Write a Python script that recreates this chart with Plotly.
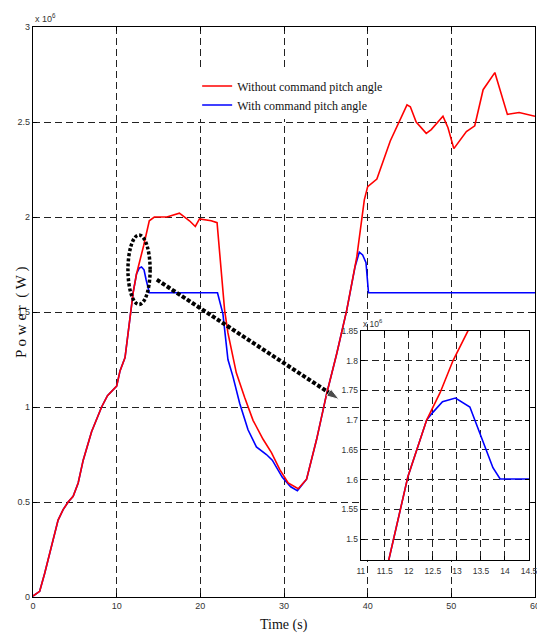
import plotly.graph_objects as go

# ---- data (power in units of 1e6 W) ----
t_without = [0, 0.8, 1.4, 2.0, 2.6, 3.0, 3.6, 4.2, 4.8, 5.4, 6.0, 7.0, 8.2, 8.9, 10.0, 10.4,
             11.0, 11.58, 11.98, 12.37, 12.65, 12.92, 13.23, 13.9, 14.5, 16.0, 17.5, 18.7,
             19.4, 19.9, 21.3, 22.0, 22.9, 23.3, 24.3, 25.3, 26.3, 27.5, 28.5, 29.5, 30.5,
             31.7, 32.7, 33.9, 35.1, 36.3, 37.5, 38.7, 39.6, 40.0, 41.1, 42.7, 44.7, 45.1,
             45.8, 47.0, 47.6, 49.0, 49.6, 50.3, 51.8, 52.8, 53.8, 55.2, 56.7, 58.1, 60.0]
p_without = [0.005, 0.03, 0.125, 0.23, 0.34, 0.405, 0.46, 0.50, 0.53, 0.60, 0.72, 0.87, 1.0, 1.06,
             1.11, 1.19, 1.26, 1.465, 1.605, 1.70, 1.746, 1.80, 1.85, 1.98, 2.0, 2.0, 2.02, 1.98,
             1.95, 1.99, 1.98, 1.97, 1.51, 1.39, 1.18, 1.05, 0.93, 0.83, 0.76, 0.67, 0.60,
             0.57, 0.62, 0.83, 1.07, 1.28, 1.51, 1.79, 2.09, 2.16, 2.20, 2.40, 2.59, 2.58,
             2.50, 2.44, 2.46, 2.53, 2.47, 2.36, 2.45, 2.48, 2.67, 2.76, 2.54, 2.55, 2.53]

t_with = [0, 0.8, 1.4, 2.0, 2.6, 3.0, 3.6, 4.2, 4.8, 5.4, 6.0, 7.0, 8.2, 8.9, 10.0, 10.4,
          11.0, 11.58, 11.98, 12.37, 12.5, 12.7, 12.97, 13.27, 13.52, 13.75, 13.9, 14.5, 22.05,
          22.7, 23.3, 23.9, 24.7, 25.7, 26.7, 27.9, 28.6, 29.8, 30.8, 31.6, 32.7, 33.9, 35.1,
          36.3, 37.5, 38.5, 39.0, 39.4, 39.8, 40.1, 60.0]
p_with = [0.005, 0.03, 0.125, 0.23, 0.34, 0.405, 0.46, 0.50, 0.53, 0.60, 0.72, 0.87, 1.0, 1.06,
          1.11, 1.19, 1.26, 1.465, 1.605, 1.70, 1.713, 1.731, 1.737, 1.722, 1.67, 1.62, 1.601,
          1.601, 1.601, 1.49, 1.25, 1.16, 1.02, 0.88, 0.79, 0.75, 0.72, 0.63, 0.58, 0.56, 0.62,
          0.83, 1.07, 1.28, 1.51, 1.74, 1.815, 1.80, 1.76, 1.601, 1.601]

labels = ["Without command pitch angle", "With command pitch angle"]
colors = ["#ff0000", "#0000ff"]

main_xticks = [0, 10, 20, 30, 40, 50, 60]
main_yticks = [0, 0.5, 1, 1.5, 2, 2.5, 3]
inset_xticks = [11, 11.5, 12, 12.5, 13, 13.5, 14, 14.5]
inset_yticks = [1.5, 1.55, 1.6, 1.65, 1.7, 1.75, 1.8, 1.85]

# arrow (annotation geometry)
arrow_t = [14.8, 36.6]
arrow_p = [1.67, 1.04]

SERIF = "Liberation Serif, Times New Roman, serif"
TICKF = "Liberation Sans Narrow, Arial Narrow, Liberation Sans, Arial, sans-serif"

fig = go.Figure()
# blue first so that red lies on top where they coincide
fig.add_trace(go.Scatter(x=t_with, y=p_with, mode="lines", name=labels[1], legendrank=2,
                         line=dict(color=colors[1], width=1.6)))
fig.add_trace(go.Scatter(x=t_without, y=p_without, mode="lines", name=labels[0], legendrank=1,
                         line=dict(color=colors[0], width=1.6)))
# dotted arrow
fig.add_trace(go.Scatter(x=arrow_t, y=arrow_p, mode="lines+markers", showlegend=False,
                         line=dict(color="black", width=4, dash="4px,2px"),
                         marker=dict(symbol=["circle", "arrow"], size=[0, 13], color="black",
                                     angleref="previous"),
                         hoverinfo="skip"))
# inset traces
fig.add_trace(go.Scatter(x=t_with, y=p_with, mode="lines", showlegend=False,
                         line=dict(color=colors[1], width=1.6), xaxis="x2", yaxis="y2"))
fig.add_trace(go.Scatter(x=t_without, y=p_without, mode="lines", showlegend=False,
                         line=dict(color=colors[0], width=1.6), xaxis="x2", yaxis="y2"))

grid = dict(showgrid=True, gridcolor="#222222", gridwidth=1.2, griddash="7px,4px",
            showline=True, linecolor="black", linewidth=1.3, mirror="ticks",
            ticks="inside", ticklen=4, tickcolor="black", zeroline=False, automargin=False,
            ticklabeloverflow="allow")

fig.update_layout(
    width=537, height=640,
    margin=dict(l=33, r=2, t=27, b=43, autoexpand=False),
    paper_bgcolor="white", plot_bgcolor="white",
    xaxis=dict(range=[0, 60], tickvals=main_xticks, domain=[0, 1],
               tickfont=dict(family=TICKF, size=9, color="#333"), **grid),
    yaxis=dict(range=[0, 3], tickvals=main_yticks, domain=[0, 1],
               tickfont=dict(family=TICKF, size=9, color="#333"), **grid),
    xaxis2=dict(range=[11, 14.5], tickvals=inset_xticks, domain=[0.653, 0.988],
                anchor="y2", ticklabelstandoff=3,
                tickfont=dict(family=TICKF, size=8.5, color="#333"), **grid),
    yaxis2=dict(range=[1.465, 1.85], tickvals=inset_yticks, domain=[0.065, 0.467],
                anchor="x2",
                tickfont=dict(family=TICKF, size=8.5, color="#333"), **grid),
    legend=dict(x=0.327, y=0.922, xanchor="left", yanchor="top", bgcolor="white",
                borderwidth=0, font=dict(family=SERIF, size=12, color="#111"),
                tracegroupgap=3, traceorder="normal"),
    showlegend=True,
)

fig.add_shape(type="circle", xref="x", yref="y", x0=11.35, x1=14.0, y0=1.54, y1=1.905,
              line=dict(color="black", width=3.5, dash="3px,2px"))

fig.add_annotation(xref="paper", yref="paper", x=0.0, y=1.0, xanchor="left", yanchor="bottom",
                   text="x 10<sup>6</sup>", showarrow=False, yshift=1,
                   font=dict(family=TICKF, size=9, color="#333"))
fig.add_annotation(xref="paper", yref="paper", x=0.653, y=0.467, xanchor="left",
                   yanchor="bottom", text="x 10<sup>6</sup>", showarrow=False, yshift=0,
                   font=dict(family=TICKF, size=8.5, color="#333"))
fig.add_annotation(xref="paper", yref="paper", x=-0.024, y=0.5, xanchor="center",
                   yanchor="middle", text="P o w e r  ( W )", textangle=-90,
                   showarrow=False, font=dict(family=SERIF, size=15, color="#111"))
fig.add_annotation(xref="paper", yref="paper", x=0.5, y=-0.049, xanchor="center",
                   yanchor="middle", text="Time (s)", showarrow=False,
                   font=dict(family=SERIF, size=14, color="#111"))

# remove the default 8px page margin so the figure fills the 537x640 window exactly
fig.write_html("out.html", config={"displayModeBar": False},
               post_script="document.body.style.margin='0';document.body.style.overflow='hidden';")
